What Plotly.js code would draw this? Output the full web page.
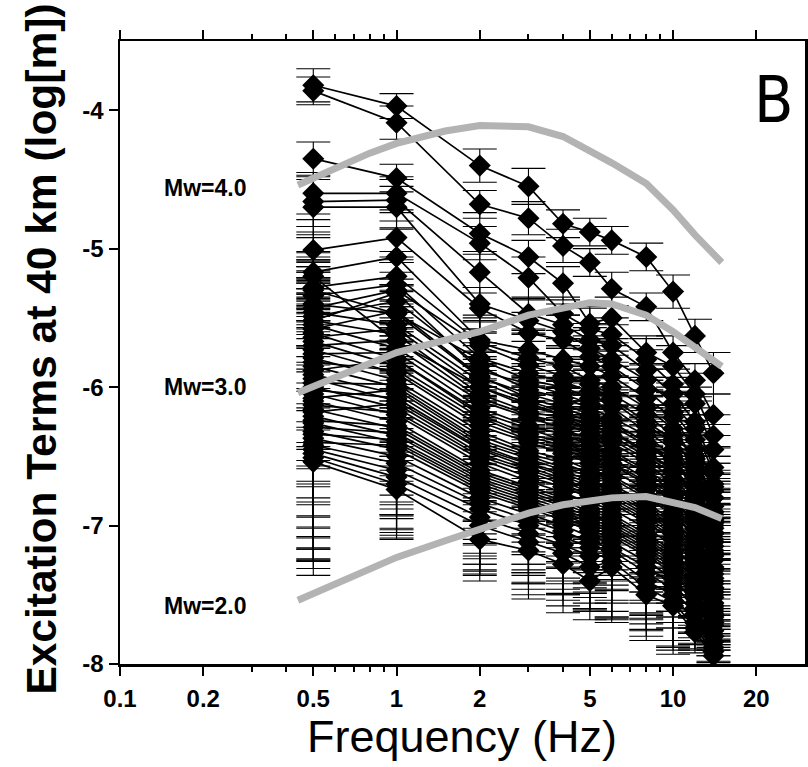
<!DOCTYPE html>
<html>
<head>
<meta charset="utf-8">
<script src="https://cdn.plot.ly/plotly-3.0.1.min.js"></script>
<style>html,body{margin:0;padding:0;background:#fff;}#chart{width:808px;height:767px;}</style>
</head>
<body>
<div id="chart"></div>
<script>
// Frequencies (Hz) at which excitation terms were estimated
const freqs = [0.5, 1, 2, 3, 4, 5, 6, 8, 10, 12, 14];

// Excitation terms (log[m]) per event, values read at each frequency
const events = [
  [-3.82,-3.97,-4.40,-4.55,-4.82,-4.88,-4.94,-5.06,-5.31,-5.63,-5.90],
  [-3.86,-4.09,-4.68,-4.78,-4.98,-5.10,-5.29,-5.42,-5.75,-5.95,-6.20],
  [-4.35,-4.49,-4.89,-5.06,-5.25,-5.54,-5.50,-5.75,-5.85,-6.05,-6.35],
  [-4.60,-4.60,-4.96,-5.21,-5.47,-5.58,-5.62,-5.80,-5.98,-6.12,-6.45],
  [-4.66,-4.65,-5.17,-5.47,-5.55,-5.66,-5.70,-5.88,-6.05,-6.25,-6.58],
  [-4.70,-4.70,-5.40,-5.52,-5.60,-5.72,-5.80,-5.95,-6.12,-6.30,-6.62],
  [-5.01,-4.92,-5.43,-5.61,-5.66,-5.78,-5.85,-6.02,-6.18,-6.38,-6.70],
  [-5.17,-5.06,-5.66,-5.73,-5.80,-5.85,-5.92,-6.08,-6.22,-6.45,-6.75],
  [-5.28,-5.20,-5.68,-5.79,-5.85,-5.95,-6.00,-6.15,-6.30,-6.52,-6.80],
  [-5.34,-5.26,-5.79,-5.90,-5.96,-6.03,-6.08,-6.25,-6.38,-6.58,-6.86],
  [-5.52,-5.32,-5.88,-5.98,-6.05,-6.12,-6.15,-6.32,-6.45,-6.62,-6.92],
  [-5.30,-5.47,-5.93,-6.05,-6.12,-6.20,-6.25,-6.40,-6.52,-6.70,-6.98],
  [-5.20,-5.67,-6.00,-6.12,-6.20,-6.28,-6.32,-6.48,-6.60,-6.78,-7.05],
  [-5.40,-5.47,-5.80,-5.95,-6.00,-6.08,-6.10,-6.28,-6.40,-6.55,-6.80],
  [-5.43,-5.30,-5.70,-5.84,-5.92,-5.98,-6.05,-6.20,-6.35,-6.50,-6.72],
  [-5.46,-5.55,-5.96,-6.10,-6.18,-6.25,-6.28,-6.42,-6.55,-6.72,-6.95],
  [-5.49,-5.38,-5.85,-6.02,-6.08,-6.15,-6.22,-6.35,-6.50,-6.65,-6.90],
  [-5.52,-5.62,-6.05,-6.18,-6.22,-6.30,-6.35,-6.50,-6.62,-6.80,-7.02],
  [-5.55,-5.72,-6.10,-6.22,-6.30,-6.38,-6.40,-6.55,-6.70,-6.85,-7.10],
  [-5.58,-5.45,-5.92,-6.08,-6.15,-6.22,-6.26,-6.40,-6.55,-6.70,-6.96],
  [-5.61,-5.80,-6.18,-6.30,-6.38,-6.45,-6.48,-6.62,-6.75,-6.92,-7.15],
  [-5.64,-5.58,-6.00,-6.14,-6.20,-6.28,-6.32,-6.46,-6.60,-6.76,-7.00],
  [-5.67,-5.85,-6.22,-6.36,-6.42,-6.50,-6.55,-6.68,-6.80,-6.98,-7.20],
  [-5.70,-5.66,-6.08,-6.20,-6.26,-6.34,-6.38,-6.52,-6.66,-6.82,-7.06],
  [-5.73,-5.90,-6.28,-6.40,-6.48,-6.55,-6.60,-6.74,-6.86,-7.02,-7.25],
  [-5.76,-5.75,-6.15,-6.28,-6.34,-6.42,-6.46,-6.60,-6.72,-6.88,-7.12],
  [-5.79,-5.95,-6.32,-6.46,-6.52,-6.60,-6.64,-6.78,-6.90,-7.08,-7.30],
  [-5.82,-5.88,-6.25,-6.38,-6.45,-6.52,-6.56,-6.70,-6.82,-6.98,-7.22],
  [-5.85,-6.00,-6.38,-6.50,-6.58,-6.65,-6.70,-6.84,-6.96,-7.12,-7.35],
  [-5.88,-5.80,-6.20,-6.34,-6.40,-6.48,-6.52,-6.66,-6.78,-6.94,-7.18],
  [-5.91,-6.05,-6.42,-6.55,-6.62,-6.70,-6.74,-6.88,-7.00,-7.18,-7.40],
  [-5.94,-6.10,-6.45,-6.58,-6.66,-6.74,-6.78,-6.92,-7.04,-7.22,-7.45],
  [-5.97,-5.98,-6.35,-6.48,-6.55,-6.62,-6.66,-6.80,-6.92,-7.08,-7.32],
  [-6.00,-6.15,-6.50,-6.62,-6.70,-6.78,-6.82,-6.96,-7.08,-7.26,-7.48],
  [-6.02,-6.08,-6.44,-6.56,-6.64,-6.72,-6.76,-6.90,-7.02,-7.20,-7.42],
  [-6.05,-6.20,-6.55,-6.68,-6.76,-6.84,-6.88,-7.02,-7.14,-7.32,-7.52],
  [-6.08,-6.02,-6.40,-6.52,-6.60,-6.68,-6.72,-6.86,-6.98,-7.15,-7.38],
  [-6.10,-6.25,-6.60,-6.72,-6.80,-6.88,-6.92,-7.06,-7.18,-7.36,-7.56],
  [-6.13,-6.18,-6.52,-6.65,-6.72,-6.80,-6.84,-6.98,-7.10,-7.28,-7.50],
  [-6.16,-6.30,-6.64,-6.76,-6.84,-6.92,-6.96,-7.10,-7.22,-7.40,-7.60],
  [-6.18,-6.12,-6.48,-6.60,-6.68,-6.76,-6.80,-6.94,-7.06,-7.24,-7.46],
  [-6.21,-6.35,-6.68,-6.80,-6.88,-6.96,-7.00,-7.14,-7.26,-7.44,-7.64],
  [-6.24,-6.28,-6.62,-6.74,-6.82,-6.90,-6.94,-7.08,-7.20,-7.38,-7.58],
  [-6.26,-6.40,-6.72,-6.84,-6.92,-7.00,-7.04,-7.18,-7.30,-7.48,-7.68],
  [-6.29,-6.33,-6.66,-6.78,-6.86,-6.94,-6.98,-7.12,-7.24,-7.42,-7.62],
  [-6.32,-6.45,-6.76,-6.88,-6.96,-7.04,-7.08,-7.22,-7.34,-7.52,-7.72],
  [-6.34,-6.38,-6.70,-6.82,-6.90,-6.98,-7.02,-7.16,-7.28,-7.46,-7.66],
  [-6.37,-6.50,-6.80,-6.92,-7.00,-7.08,-7.12,-7.26,-7.38,-7.56,-7.76],
  [-6.40,-6.42,-6.74,-6.86,-6.94,-7.02,-7.06,-7.20,-7.32,-7.50,-7.70],
  [-6.42,-6.55,-6.84,-6.96,-7.04,-7.12,-7.16,-7.30,-7.42,-7.60,-7.80],
  [-6.45,-6.60,-6.88,-7.00,-7.08,-7.16,-7.18,-7.34,-7.46,-7.64,-7.84],
  [-6.48,-6.65,-6.94,-7.06,-7.14,-7.22,-7.22,-7.40,-7.50,-7.70,-7.88],
  [-6.51,-6.70,-7.00,-7.12,-7.20,-7.30,-7.26,-7.45,-7.55,-7.74,-7.91],
  [-6.54,-6.74,-7.10,-7.18,-7.28,-7.40,-7.30,-7.50,-7.58,-7.77,-7.94]
];

// One-sigma error (log units) for each event at each frequency
const errors = [
  [0.12,0.09,0.12,0.13,0.10,0.10,0.10,0.10,0.12,0.12,0.15],
  [0.10,0.12,0.10,0.12,0.12,0.10,0.12,0.10,0.12,0.12,0.15],
  [0.12,0.10,0.15,0.12,0.12,0.12,0.15,0.12,0.15,0.15,0.15],
  [0.15,0.12,0.12,0.15,0.12,0.15,0.12,0.15,0.15,0.12,0.18],
  [0.18,0.15,0.15,0.12,0.15,0.12,0.15,0.15,0.12,0.15,0.15],
  [0.20,0.15,0.12,0.15,0.12,0.15,0.12,0.12,0.15,0.15,0.18],
  [0.22,0.18,0.15,0.15,0.18,0.15,0.15,0.18,0.15,0.18,0.15],
  [0.25,0.20,0.18,0.15,0.15,0.18,0.15,0.15,0.18,0.15,0.20],
  [0.25,0.18,0.15,0.18,0.15,0.15,0.18,0.20,0.15,0.18,0.18],
  [0.28,0.20,0.18,0.15,0.18,0.18,0.15,0.18,0.20,0.18,0.20],
  [0.30,0.22,0.20,0.18,0.15,0.18,0.18,0.15,0.18,0.20,0.18],
  [0.28,0.20,0.18,0.20,0.18,0.15,0.20,0.18,0.18,0.20,0.22],
  [0.32,0.22,0.20,0.18,0.20,0.18,0.18,0.20,0.22,0.18,0.20],
  [0.30,0.25,0.22,0.20,0.18,0.20,0.18,0.22,0.20,0.22,0.20],
  [0.35,0.22,0.20,0.22,0.20,0.18,0.20,0.18,0.22,0.20,0.22],
  [0.38,0.25,0.22,0.20,0.22,0.20,0.22,0.20,0.20,0.22,0.25],
  [0.40,0.28,0.25,0.22,0.20,0.22,0.20,0.22,0.25,0.20,0.22],
  [0.35,0.25,0.22,0.25,0.22,0.20,0.22,0.25,0.22,0.25,0.22],
  [0.42,0.30,0.25,0.22,0.25,0.22,0.25,0.22,0.25,0.22,0.25],
  [0.45,0.28,0.22,0.25,0.22,0.25,0.22,0.25,0.22,0.25,0.28],
  [0.40,0.30,0.28,0.25,0.22,0.25,0.25,0.22,0.28,0.25,0.25],
  [0.48,0.32,0.25,0.22,0.25,0.22,0.28,0.25,0.25,0.28,0.25],
  [0.50,0.30,0.28,0.25,0.28,0.25,0.22,0.28,0.25,0.25,0.28],
  [0.45,0.35,0.30,0.28,0.25,0.28,0.25,0.25,0.30,0.28,0.25],
  [0.52,0.32,0.28,0.30,0.28,0.25,0.28,0.30,0.28,0.25,0.28],
  [0.55,0.35,0.30,0.28,0.30,0.28,0.30,0.28,0.25,0.30,0.28],
  [0.50,0.38,0.32,0.30,0.28,0.30,0.28,0.30,0.30,0.28,0.30],
  [0.58,0.35,0.30,0.32,0.30,0.28,0.32,0.28,0.30,0.30,0.28],
  [0.60,0.40,0.35,0.30,0.32,0.30,0.30,0.32,0.28,0.30,0.30],
  [0.55,0.38,0.32,0.35,0.30,0.32,0.28,0.30,0.32,0.28,0.30],
  [0.62,0.42,0.35,0.32,0.35,0.30,0.32,0.30,0.30,0.32,0.28],
  [0.65,0.40,0.38,0.35,0.32,0.35,0.30,0.35,0.32,0.30,0.30],
  [0.60,0.45,0.35,0.38,0.35,0.32,0.35,0.32,0.35,0.30,0.32],
  [0.68,0.42,0.40,0.35,0.38,0.35,0.32,0.35,0.32,0.35,0.30],
  [0.70,0.45,0.38,0.40,0.35,0.38,0.35,0.32,0.35,0.32,0.30],
  [0.65,0.40,0.42,0.38,0.40,0.35,0.38,0.35,0.32,0.35,0.28],
  [0.72,0.48,0.40,0.42,0.38,0.40,0.35,0.38,0.35,0.32,0.30],
  [0.75,0.45,0.42,0.40,0.42,0.38,0.40,0.35,0.38,0.30,0.28],
  [0.70,0.50,0.45,0.42,0.40,0.40,0.38,0.40,0.35,0.32,0.25],
  [0.78,0.48,0.42,0.45,0.42,0.42,0.40,0.38,0.40,0.30,0.28],
  [0.75,0.52,0.48,0.42,0.45,0.40,0.42,0.40,0.38,0.32,0.25],
  [0.80,0.50,0.45,0.48,0.42,0.45,0.40,0.42,0.40,0.30,0.22],
  [0.78,0.55,0.48,0.45,0.45,0.42,0.45,0.40,0.42,0.28,0.25],
  [0.82,0.52,0.50,0.48,0.48,0.45,0.42,0.45,0.40,0.30,0.22],
  [0.80,0.55,0.48,0.50,0.45,0.48,0.45,0.42,0.42,0.28,0.20],
  [0.85,0.50,0.52,0.48,0.50,0.45,0.48,0.45,0.40,0.25,0.22],
  [0.82,0.55,0.50,0.52,0.48,0.50,0.45,0.48,0.42,0.28,0.20],
  [0.80,0.52,0.48,0.50,0.50,0.48,0.50,0.45,0.45,0.25,0.18],
  [0.85,0.50,0.50,0.48,0.48,0.50,0.48,0.48,0.42,0.22,0.20],
  [0.82,0.48,0.48,0.45,0.45,0.48,0.50,0.45,0.45,0.25,0.18],
  [0.80,0.45,0.45,0.42,0.42,0.45,0.48,0.42,0.42,0.22,0.15],
  [0.78,0.42,0.42,0.40,0.40,0.40,0.45,0.40,0.40,0.20,0.15],
  [0.80,0.40,0.40,0.38,0.38,0.38,0.42,0.38,0.38,0.18,0.12],
  [0.82,0.35,0.25,0.35,0.35,0.20,0.40,0.15,0.12,0.12,0.10]
];

// Model source spectra curves (grey)
const modelFreqs = [0.44, 0.6, 0.8, 1, 1.5, 2, 3, 4, 5, 6, 8, 10, 12, 15];
const modelMw4 = [-4.54,-4.42,-4.31,-4.24,-4.15,-4.11,-4.12,-4.19,-4.29,-4.38,-4.53,-4.72,-4.90,-5.10];
const modelMw3 = [-6.04,-5.93,-5.82,-5.75,-5.66,-5.60,-5.48,-5.43,-5.39,-5.40,-5.48,-5.60,-5.71,-5.85];
const modelMw2 = [-7.54,-7.42,-7.31,-7.23,-7.11,-7.03,-6.91,-6.85,-6.82,-6.80,-6.79,-6.83,-6.87,-6.95];
const modelLabels = ['Mw=4.0', 'Mw=3.0', 'Mw=2.0'];
const labelLevels = [-4.56, -6.00, -7.58];

const xTickVals = [0.1, 0.2, 0.5, 1, 2, 5, 10, 20];
const xTickText = ['0.1', '0.2', '0.5', '1', '2', '5', '10', '20'];
const xMinorVals = [0.3,0.4,0.6,0.7,0.8,0.9,3,4,6,7,8,9];
const yTickVals = [-8, -7, -6, -5, -4];
const yTickText = ['-8', '-7', '-6', '-5', '-4'];

const traces = [];
events.forEach((ev, i) => {
  traces.push({
    x: freqs, y: ev, type: 'scatter', mode: 'lines+markers',
    line: {color: '#000', width: 1.7},
    marker: {symbol: 'diamond', size: 17, color: '#000'},
    error_y: {type: 'data', array: errors[i], visible: true, color: '#000', thickness: 1.1, width: 17},
    showlegend: false, hoverinfo: 'skip'
  });
});
[modelMw4, modelMw3, modelMw2].forEach(m => {
  traces.push({
    x: modelFreqs, y: m, type: 'scatter', mode: 'lines',
    line: {color: '#b3b3b3', width: 7}, showlegend: false, hoverinfo: 'skip'
  });
});

const fontFam = 'Liberation Sans, Arial, Helvetica, sans-serif';
const annotations = modelLabels.map((t, i) => ({
  x: Math.log10(0.142), y: labelLevels[i], xref: 'x', yref: 'y', text: t, showarrow: false,
  xanchor: 'left', yanchor: 'middle', font: {family: fontFam, size: 23, color: '#000', weight: 700}
}));
annotations.push({x: 0.955, y: 0.905, xref: 'paper', yref: 'paper', text: 'B', showarrow: false,
  xanchor: 'center', yanchor: 'middle', font: {family: 'Liberation Sans Narrow, DejaVu Sans Condensed, Liberation Sans, sans-serif', size: 64, color: '#000'}});
annotations.push({x: -0.115, y: 0.505, xref: 'paper', yref: 'paper', text: 'Excitation Terms at 40 km (log[m])',
  showarrow: false, textangle: -90, xanchor: 'center', yanchor: 'middle',
  font: {family: fontFam, size: 42.5, color: '#000', weight: 700}});
annotations.push({x: 0.499, y: -0.117, xref: 'paper', yref: 'paper', text: 'Frequency (Hz)',
  showarrow: false, xanchor: 'center', yanchor: 'middle',
  font: {family: fontFam, size: 45, color: '#000'}});

const layout = {
  width: 808, height: 767,
  margin: {l: 120, r: 3, t: 41, b: 103, pad: 0},
  paper_bgcolor: '#fff', plot_bgcolor: '#fff',
  showlegend: false,
  xaxis: {
    type: 'log', range: [-1, Math.log10(30)], showgrid: false, zeroline: false,
    showline: true, linecolor: '#000', linewidth: 2.5, mirror: 'ticks',
    ticks: 'outside', ticklen: 9, tickwidth: 2, tickcolor: '#000',
    tickmode: 'array', tickvals: xTickVals, ticktext: xTickText, ticklabelstandoff: 3,
    tickfont: {family: fontFam, size: 24, color: '#000', weight: 700},
    minor: {tickmode: 'array', tickvals: xMinorVals, ticks: 'outside', ticklen: 5, tickwidth: 2, tickcolor: '#000', showgrid: false}
  },
  yaxis: {
    range: [-8, -3.5], showgrid: false, zeroline: false,
    showline: true, linecolor: '#000', linewidth: 2.5, mirror: 'ticks',
    ticks: 'outside', ticklen: 9, tickwidth: 2, tickcolor: '#000',
    tickmode: 'array', tickvals: yTickVals, ticktext: yTickText,
    tickfont: {family: fontFam, size: 24, color: '#000', weight: 700}
  },
  annotations: annotations
};

Plotly.newPlot('chart', traces, layout, {staticPlot: true, displayModeBar: false});
</script>
</body>
</html>
